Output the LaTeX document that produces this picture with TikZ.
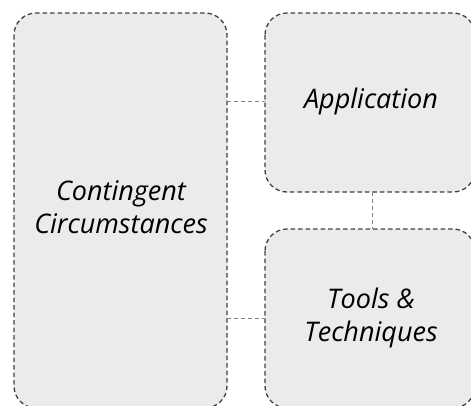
\documentclass[tikz,border=0pt]{standalone}
\usepackage{fontspec}
\setmainfont{Open Sans}
\begin{document}
\begin{tikzpicture}[x=1pt,y=-1pt,
  box/.style={draw=black!75, fill=black!8, line width=1.3pt, dash pattern=on 4.5pt off 3pt, rounded corners=22pt},
  lbl/.style={font=\itshape\fontsize{27}{33}\selectfont, align=center, text=black, inner sep=0pt},
  conn/.style={draw=black!50, line width=0.9pt, dash pattern=on 4pt off 3pt}]
\useasboundingbox (0,0) rectangle (471,405);
\draw[box] (14,13) rectangle (227,408);
\draw[box] (265,13) rectangle (475,192);
\draw[box] (265,229) rectangle (475,408);
\node[lbl] (cc) at (121,207) {Contingent\\Circumstances};
\node[lbl] (app) at (371,101) {Application};
\node[lbl] (tt) at (371,318) {Tools \&\\Techniques};
\coordinate (l1) at (227,101);
\coordinate (r1) at (265,101);
\coordinate (l2) at (227,318);
\coordinate (r2) at (265,318);
\coordinate (v1) at (372,192);
\coordinate (v2) at (372,229);
\draw[conn] (l1) -- (r1);
\draw[conn] (l2) -- (r2);
\draw[conn] (v1) -- (v2);
\end{tikzpicture}
\end{document}
